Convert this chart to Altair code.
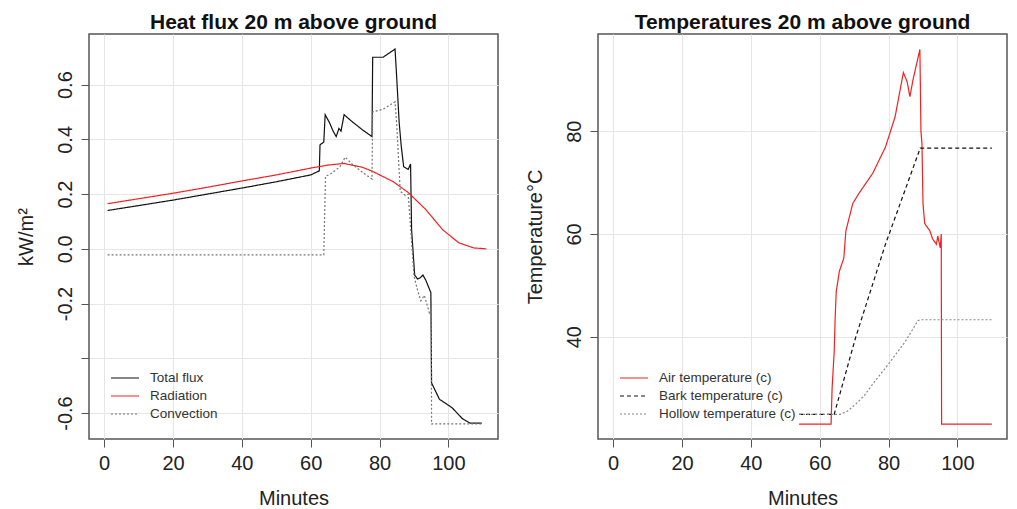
import altair as alt
import pandas as pd

FONT = "Liberation Sans"

# ---------------- Left panel: heat flux (kW/m^2) vs minutes ----------------
flux_names = ["Total flux", "Radiation", "Convection"]

total_x = [1, 10, 20, 30, 40, 50, 60, 62.5, 62.7, 63.8, 64.2, 65.5, 66.5, 67.4, 68.2, 68.8,
           69.7, 72, 75, 77.8, 78, 81, 84.5, 85, 85.7, 86.3, 87, 88.3, 89, 89.3, 90.2, 91,
           91.7, 92.6, 93.4, 94.9, 95.1, 97.4, 101, 104, 106.3, 109.7]
total_y = [0.14, 0.158, 0.178, 0.2, 0.222, 0.245, 0.27, 0.285, 0.38, 0.39, 0.49, 0.46, 0.43,
           0.41, 0.44, 0.43, 0.49, 0.465, 0.435, 0.41, 0.70, 0.70, 0.73, 0.62, 0.46, 0.375,
           0.30, 0.29, 0.31, 0.07, -0.096, -0.11, -0.107, -0.096, -0.114, -0.16, -0.49,
           -0.55, -0.58, -0.62, -0.637, -0.637]

rad_x = [1, 10, 20, 30, 40, 50, 60, 65, 69.7, 75, 78, 84, 88.3, 93.4, 98.3, 103, 107.4, 111]
rad_y = [0.165, 0.183, 0.203, 0.225, 0.248, 0.27, 0.295, 0.306, 0.312, 0.298, 0.283, 0.245,
         0.206, 0.144, 0.07, 0.022, 0.003, 0.0]

conv_x = [1, 63.8, 64.3, 66, 67.5, 68.5, 70, 72, 75, 77.8, 78, 81, 84.5, 85, 86, 87.5, 88.3,
          89, 90, 91, 92, 93, 94.5, 95, 95.1, 110]
conv_y = [-0.022, -0.022, 0.265, 0.275, 0.29, 0.30, 0.335, 0.31, 0.28, 0.255, 0.5, 0.51,
          0.537, 0.45, 0.21, 0.195, 0.2, 0.08, -0.1, -0.15, -0.19, -0.17, -0.235, -0.23,
          -0.64, -0.64]

# ---------------- Right panel: temperatures (deg C) vs minutes ----------------
temp_names = ["Air temperature (c)", "Bark temperature (c)", "Hollow temperature (c)"]

air_x = [54, 63.3, 63.6, 64.2, 64.5, 64.8, 65.7, 67, 67.6, 69.6, 71.3, 75.4, 79.1, 81.9, 84.3,
         85.4, 86.2, 87.1, 89.1, 89.4, 89.7, 90, 90.5, 92, 92.8, 93.9, 94.3, 95, 95.3, 95.4, 110]
air_y = [23, 23, 30, 37, 44, 48.8, 52.7, 55.3, 60.6, 65.9, 67.8, 71.8, 76.9, 82.8, 91.4, 89.6,
         86.7, 90, 95.9, 80, 77.6, 65.9, 62, 60.6, 59, 58, 59.6, 57.3, 60, 23, 23]

bark_x = [54, 64.2, 70.5, 79.1, 89.2, 110]
bark_y = [24.9, 24.9, 40, 58, 76.7, 76.7]

hollow_x = [54, 66, 68, 70.5, 73, 75.4, 80, 84.8, 88.5, 89.2, 110]
hollow_y = [24.9, 24.9, 25.5, 26.9, 28.6, 30.8, 34.7, 39, 43.1, 43.3, 43.3]

x_ticks = [0, 20, 40, 60, 80, 100]
flux_ticks = [-0.6, -0.4, -0.2, 0.0, 0.2, 0.4, 0.6]
temp_ticks = [40, 60, 80]


def long_df(field, items):
    rows = []
    for name, xs, ys in items:
        for i, (x, y) in enumerate(zip(xs, ys)):
            rows.append({field: name, "minutes": x, "value": y, "order": i})
    return pd.DataFrame(rows)


flux_df = long_df("flux_series", [("Total flux", total_x, total_y),
                                  ("Radiation", rad_x, rad_y),
                                  ("Convection", conv_x, conv_y)])
temp_df = long_df("temp_series", [("Air temperature (c)", air_x, air_y),
                                  ("Bark temperature (c)", bark_x, bark_y),
                                  ("Hollow temperature (c)", hollow_x, hollow_y)])

PW, PH = 409, 405
XDOM = [-4.4, 114.4]

common_axis = dict(domain=False, grid=True, gridColor="#e6e6e6", gridWidth=1,
                   tickColor="#555", tickSize=8, tickWidth=1,
                   labelFont=FONT, labelFontSize=20, labelColor="#222",
                   titleFont=FONT, titleFontSize=20, titleColor="#222",
                   titleFontWeight="normal", labelOverlap=False, labelFlush=False)


def x_axis():
    return alt.Axis(values=x_ticks, title="Minutes", format="d", labelPadding=6,
                    minExtent=30, maxExtent=30, titlePadding=19.5, **common_axis)


def y_axis(title, values, label_expr=None):
    kw = dict(values=values, title=title, labelAngle=270, labelAlign="center",
              labelBaseline="bottom", labelPadding=6, minExtent=34, maxExtent=34,
              titlePadding=18.8, **common_axis)
    if label_expr:
        kw["labelExpr"] = label_expr
    return alt.Axis(**kw)


# legend line: a wide horizontal stroke drawn from a small symbol size
LEG_PATH = "M-2,0H2"


def legend(lx, ly):
    return alt.Legend(title=None, orient="none", legendX=lx, legendY=ly,
                      symbolType=LEG_PATH, symbolSize=196, symbolStrokeWidth=1.2,
                      symbolFillColor="transparent",
                      labelFont=FONT, labelFontSize=13.5, labelColor="#333",
                      labelOffset=17, rowPadding=3, padding=0)


def title(text):
    return alt.Title(text, font=FONT, fontSize=21, fontWeight="bold", color="#111",
                     anchor="middle", baseline="bottom", offset=-20)


flux_leg = legend(28, 336)
left = alt.Chart(flux_df).mark_line(strokeWidth=1.2, clip=True).encode(
    x=alt.X("minutes:Q", scale=alt.Scale(domain=XDOM, nice=False, zero=False), axis=x_axis()),
    y=alt.Y("value:Q", scale=alt.Scale(domain=[-0.695, 0.785], nice=False, zero=False),
            axis=y_axis("kW/m²", flux_ticks,
                        "abs(datum.value + 0.4) < 1e-6 ? '' : replace(format(datum.value, '.1f'), '\u2212', '-')")),
    color=alt.Color("flux_series:N",
                    scale=alt.Scale(domain=flux_names, range=["#111111", "#ee2222", "#777777"]),
                    legend=flux_leg),
    strokeDash=alt.StrokeDash("flux_series:N",
                              scale=alt.Scale(domain=flux_names, range=[[1, 0], [1, 0], [2, 2]]),
                              legend=flux_leg),
    order="order:Q",
).properties(width=PW, height=PH, title=title("Heat flux 20 m above ground"))

temp_leg = legend(28, 336)
right = alt.Chart(temp_df).mark_line(strokeWidth=1.2, clip=True).encode(
    x=alt.X("minutes:Q", scale=alt.Scale(domain=XDOM, nice=False, zero=False), axis=x_axis()),
    y=alt.Y("value:Q", scale=alt.Scale(domain=[20.1, 98.9], nice=False, zero=False),
            axis=y_axis("Temperature°C", temp_ticks)),
    color=alt.Color("temp_series:N",
                    scale=alt.Scale(domain=temp_names, range=["#ee2222", "#111111", "#888888"]),
                    legend=temp_leg),
    strokeDash=alt.StrokeDash("temp_series:N",
                              scale=alt.Scale(domain=temp_names, range=[[1, 0], [4, 3], [2, 2]]),
                              legend=temp_leg),
    order="order:Q",
).properties(width=PW, height=PH, title=title("Temperatures 20 m above ground"))

chart = alt.hconcat(left, right, spacing=25).resolve_scale(
    x="independent", y="independent", color="independent", strokeDash="independent"
).resolve_legend(color="independent", strokeDash="independent").properties(
    padding={"left": 7, "top": 3, "right": 0, "bottom": 0},
    background="white",
).configure_view(stroke="#555555", strokeWidth=1.5)

chart.save("out.html", embed_options={"renderer": "svg", "actions": False})
